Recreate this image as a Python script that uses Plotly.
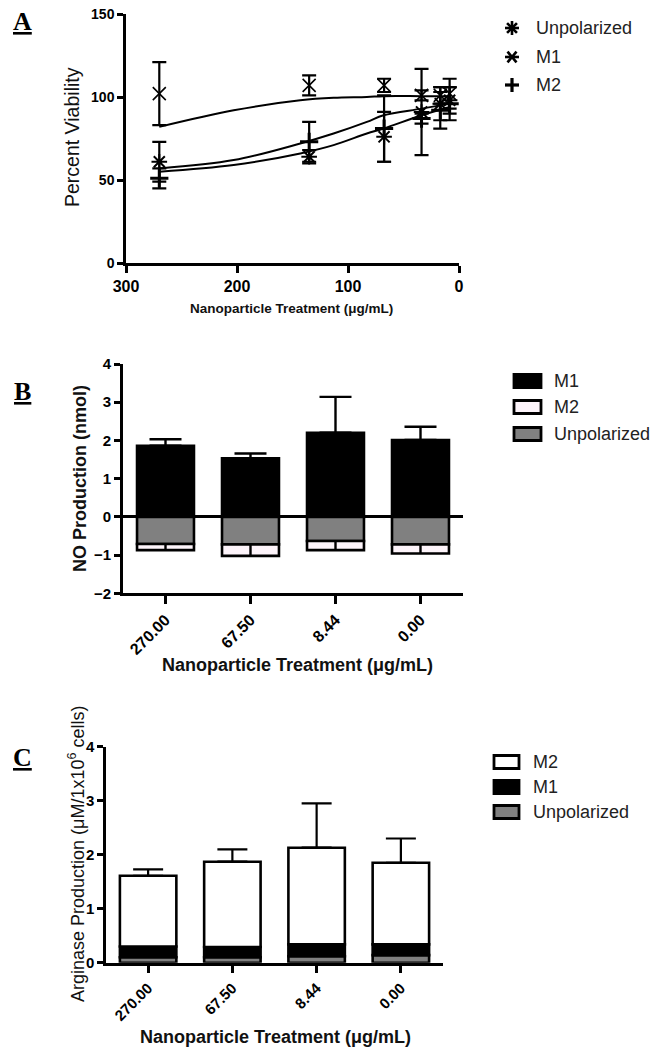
import math
import plotly.graph_objects as go

# ---------------- Panel A data ----------------
conc_a = [270, 135, 67.5, 33.75, 16.875, 8.44]
viab_unpol = [61, 64, 76, 91, 96, 98]
err_unpol = [12, 4, 15, 26, 10, 8]
viab_m1 = [102, 107, 107, 101, 101, 102]
err_m1 = [19, 6, 4, 3, 5, 9]
viab_m2 = [51, 73, 81, 87, 92, 96]
err_m2 = [6, 12, 20, 3, 11, 10]

# fitted curves
fit_x = [270, 203, 143, 113, 83, 68, 33.6, 8.44]
fit_m1 = [82, 92, 98, 99.5, 100, 100.5, 100.5, 100.5]
fit_m2 = [57, 62, 72, 78, 85, 89, 93, 96]
fit_unpol = [55, 59, 66, 71, 78, 81, 89, 94]

a_xticks = [300, 200, 100, 0]
a_yticks = [0, 50, 100, 150]

# ---------------- Panel B data ----------------
cats = ["270.00", "67.50", "8.44", "0.00"]
no_m1 = [1.86, 1.53, 2.20, 2.01]
no_m1_err = [0.17, 0.13, 0.94, 0.35]
no_unpol = [-0.71, -0.72, -0.63, -0.72]
no_m2 = [-0.16, -0.30, -0.24, -0.24]
no_m2_err = [0.16, 0.30, 0.24, 0.24]
b_yticks = [-2, -1, 0, 1, 2, 3, 4]

# ---------------- Panel C data ----------------
arg_unpol = [0.10, 0.10, 0.12, 0.14]
arg_m1 = [0.20, 0.19, 0.22, 0.20]
arg_m2 = [1.31, 1.58, 1.79, 1.51]
arg_m2_err = [0.12, 0.23, 0.82, 0.45]
c_yticks = [0, 1, 2, 3, 4]

legend_a = ["Unpolarized", "M1", "M2"]
legend_b = ["M1", "M2", "Unpolarized"]
legend_c = ["M2", "M1", "Unpolarized"]

W, H = 662, 1050
FONT = "Liberation Sans, Arial, sans-serif"
BLACK = "#000000"
GRAY = "#808080"
M2FILL = "#fdf4fa"

def px(v):
    return v / W

def py(v):
    return 1 - v / H

fig = go.Figure()

# ---- Panel A ----
for fy in (fit_m1, fit_m2, fit_unpol):
    fig.add_trace(go.Scatter(x=fit_x, y=fy, mode="lines", line=dict(color=BLACK, width=2, shape="spline"),
                             showlegend=False, hoverinfo="skip", xaxis="x", yaxis="y"))

def eb(arr, width=7):
    return dict(type="data", array=arr, visible=True, color=BLACK, thickness=2.2, width=width)

fig.add_trace(go.Scatter(x=conc_a, y=viab_unpol, mode="markers", name="Unpolarized", showlegend=False,
                         marker=dict(symbol="asterisk-open", size=13, color=BLACK, line=dict(color=BLACK, width=2)),
                         error_y=eb(err_unpol), xaxis="x", yaxis="y"))
fig.add_trace(go.Scatter(x=conc_a, y=viab_m1, mode="markers", name="M1", showlegend=False,
                         marker=dict(symbol="x-thin-open", size=13, color=BLACK, line=dict(color=BLACK, width=1.6)),
                         error_y=eb(err_m1), xaxis="x", yaxis="y"))
fig.add_trace(go.Scatter(x=conc_a, y=viab_m2, mode="markers", name="M2", showlegend=False,
                         marker=dict(symbol="cross-thin-open", size=13, color=BLACK, line=dict(color=BLACK, width=3)),
                         error_y=eb(err_m2), xaxis="x", yaxis="y"))

# ---- Panel B ----
bar_line = dict(color=BLACK, width=2.6)
fig.add_trace(go.Bar(x=cats, y=no_m1, name="M1", showlegend=False, marker=dict(color=BLACK, line=bar_line),
                     error_y=dict(type="data", symmetric=False, array=no_m1_err, arrayminus=[0] * 4,
                                  color=BLACK, thickness=2.4, width=16),
                     xaxis="x2", yaxis="y2"))
fig.add_trace(go.Bar(x=cats, y=no_unpol, name="Unpolarized", showlegend=False, marker=dict(color=GRAY, line=bar_line),
                     xaxis="x2", yaxis="y2"))
fig.add_trace(go.Bar(x=cats, y=no_m2, name="M2", showlegend=False, marker=dict(color=M2FILL, line=bar_line),
                     error_y=dict(type="data", symmetric=False, array=no_m2_err, arrayminus=[0] * 4,
                                  color=BLACK, thickness=2.4, width=0),
                     xaxis="x2", yaxis="y2"))

# ---- Panel C ----
fig.add_trace(go.Bar(x=cats, y=arg_unpol, name="Unpolarized", showlegend=False, marker=dict(color=GRAY, line=bar_line),
                     xaxis="x3", yaxis="y3"))
fig.add_trace(go.Bar(x=cats, y=arg_m1, name="M1", showlegend=False, marker=dict(color=BLACK, line=bar_line),
                     xaxis="x3", yaxis="y3"))
fig.add_trace(go.Bar(x=cats, y=arg_m2, name="M2", showlegend=False, marker=dict(color="#ffffff", line=bar_line),
                     error_y=dict(type="data", symmetric=False, array=arg_m2_err, arrayminus=[0] * 4,
                                  color=BLACK, thickness=2.2, width=15),
                     xaxis="x3", yaxis="y3"))

common_axis = dict(showgrid=False, showline=True, linecolor=BLACK, ticks="outside",
                   tickcolor=BLACK, automargin=False)

fig.update_layout(
    template="none",
    width=W, height=H,
    margin=dict(l=0, r=0, t=0, b=0, pad=0),
    paper_bgcolor="white", plot_bgcolor="white",
    showlegend=False,
    barmode="relative", bargap=0.33,
    font=dict(family=FONT, color=BLACK),
    xaxis=dict(domain=[px(126), px(459)], range=[300, 0], tickvals=a_xticks, anchor="y",
               linewidth=2.5, tickwidth=2.5, ticklen=7, zeroline=False,
               tickfont=dict(family=FONT, size=16, color=BLACK, weight="bold"), **common_axis),
    yaxis=dict(domain=[py(263), py(14)], range=[0, 150], tickvals=a_yticks, anchor="x",
               linewidth=2.5, tickwidth=2.5, ticklen=6, zeroline=False,
               tickfont=dict(family=FONT, size=14, color=BLACK, weight="bold"), **common_axis),
    xaxis2=dict(domain=[px(123), px(463)], anchor="y2", type="category", categoryorder="array",
                categoryarray=cats, tickangle=-45, linewidth=3, tickwidth=2.5, ticklen=8, zeroline=False,
                tickfont=dict(family=FONT, size=16, color=BLACK, weight="bold"), **common_axis),
    yaxis2=dict(domain=[py(593.3), py(364)], range=[-2, 4], tickvals=b_yticks, anchor="x2",
                linewidth=3, tickwidth=2.5, ticklen=6,
                tickfont=dict(family=FONT, size=15, color=BLACK, weight="bold"),
                zeroline=True, zerolinecolor=BLACK, zerolinewidth=2.6, **common_axis),
    xaxis3=dict(domain=[px(106), px(443)], anchor="y3", type="category", categoryorder="array",
                categoryarray=cats, tickangle=-45, linewidth=2.5, tickwidth=2.5, ticklen=8, zeroline=False,
                tickfont=dict(family=FONT, size=15, color=BLACK, weight="bold"), **common_axis),
    yaxis3=dict(domain=[py(962.7), py(746.7)], range=[0, 4], tickvals=c_yticks, anchor="x3",
                linewidth=2.5, tickwidth=2.5, ticklen=6, zeroline=False,
                tickfont=dict(family=FONT, size=15, color=BLACK, weight="bold"), **common_axis),
)

ann = []
shapes = []

def label(text, x, y, size=26):
    ann.append(dict(text=f"<u><b>{text}</b></u>", x=px(x), y=py(y), xref="paper", yref="paper",
                    xanchor="center", yanchor="middle", showarrow=False,
                    font=dict(family="Liberation Serif, Times New Roman, serif", size=size, color=BLACK)))

label("A", 22, 22)
label("B", 22, 392)
label("C", 22, 757)

def title(text, x, y, size, bold=False, angle=0):
    ann.append(dict(text=text, x=px(x), y=py(y), xref="paper", yref="paper", showarrow=False,
                    xanchor="center", yanchor="middle", textangle=angle,
                    font=dict(family=FONT, size=size, color="#111111", weight="bold" if bold else "normal")))

title("Percent Viability", 72, 137, 19.5, bold=False, angle=-90)
title("Nanoparticle Treatment (μg/mL)", 291, 308, 13.5, bold=True)
title("NO Production (nmol)", 80, 479, 18, bold=True, angle=-90)
title("Nanoparticle Treatment (μg/mL)", 297, 665, 18, bold=True)
title("Arginase Production (μM/1x10<sup>6</sup> cells)", 76, 854, 18, bold=False, angle=-90)
title("Nanoparticle Treatment (μg/mL)", 275, 1037, 18, bold=True)

def legend_text(text, x, y):
    ann.append(dict(text=text, x=px(x), y=py(y), xref="paper", yref="paper", showarrow=False,
                    xanchor="left", yanchor="middle",
                    font=dict(family=FONT, size=18, color="#222222")))

def seg(x0, y0, x1, y1, w=2.6):
    shapes.append(dict(type="line", xref="paper", yref="paper", x0=px(x0), y0=py(y0), x1=px(x1), y1=py(y1),
                       line=dict(color=BLACK, width=w)))

def spokes(cx, cy, r, angles, w=2.6):
    for a in angles:
        dx = r * math.cos(math.radians(a))
        dy = r * math.sin(math.radians(a))
        seg(cx - dx, cy - dy, cx + dx, cy + dy, w)

# Legend A (symbols drawn as line shapes)
leg_a_y = [28, 57, 85]
sym_angles = {"Unpolarized": [0, 45, 90, 135], "M1": [0, 50, 130], "M2": [0, 90]}
for name, yy in zip(legend_a, leg_a_y):
    spokes(512, yy, 7, sym_angles[name], 2.6 if name != "M2" else 3.2)
    legend_text(name, 534, yy)

# Legend B / C boxes
fills = {"M1": BLACK, "M2": M2FILL, "Unpolarized": GRAY}

def box(x0, x1, yc, h, fill):
    shapes.append(dict(type="rect", xref="paper", yref="paper", x0=px(x0), x1=px(x1),
                       y0=py(yc + h / 2), y1=py(yc - h / 2), fillcolor=fill,
                       line=dict(color=BLACK, width=2.8)))

for name, yy in zip(legend_b, [381, 407, 434]):
    box(514, 541, yy, 13, fills[name])
    legend_text(name, 552, yy)

fills_c = {"M1": BLACK, "M2": "#ffffff", "Unpolarized": GRAY}
for name, yy in zip(legend_c, [762, 787, 812]):
    box(494, 519, yy, 13, fills_c[name])
    legend_text(name, 531, yy)

fig.update_layout(annotations=ann, shapes=shapes)

fig.write_html("out.html", config={"displayModeBar": False},
               post_script="document.body.style.margin='0';document.body.style.overflow='hidden';")
